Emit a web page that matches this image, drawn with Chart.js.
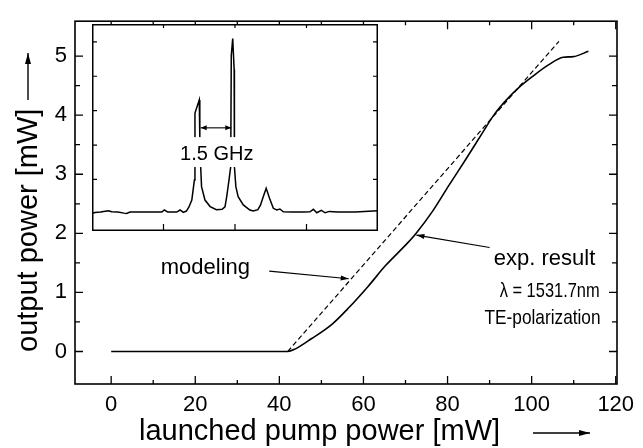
<!DOCTYPE html>
<html lang="en">
<head>
  <meta charset="UTF-8" />
  <title>Output power vs launched pump power</title>
  <script src="https://cdnjs.cloudflare.com/ajax/libs/Chart.js/4.4.1/chart.umd.min.js"></script>
  <style>
    body { margin: 0; background: #fff; }
    #wrap { position: relative; width: 643px; height: 448px; }
    #main { position: absolute; left: 0; top: 0; }
    #inset { position: absolute; left: 92px; top: 24px; }
  </style>
</head>
<body>
  <div id="wrap">
    <canvas id="main" width="643" height="448"></canvas>
    <canvas id="inset" width="286" height="207"></canvas>
  </div>
  <script>
    // main curves: launched pump power [mW] -> output power [mW]
    var expPump  = [0, 42, 43.7, 47.7, 52.5, 56.5, 61.2, 65.2, 70, 72.4, 76.5, 80.4, 84.5, 88.3, 91, 93.9, 97, 100.3, 104, 107.5, 109.9, 113.5];
    var expPower = [0, 0, 0.04, 0.22, 0.46, 0.74, 1.11, 1.45, 1.80, 1.99, 2.38, 2.82, 3.27, 3.70, 4.0, 4.25, 4.47, 4.66, 4.85, 4.98, 4.99, 5.08];
    var modelPump  = [42, 106.5];
    var modelPower = [0, 5.25];

    var xTicks = [0, 20, 40, 60, 80, 100, 120];
    var xMinor = [10, 30, 50, 70, 90, 110];
    var yTicks = [0, 1, 2, 3, 4, 5];
    var yMinor = [0.5, 1.5, 2.5, 3.5, 4.5];

    // inset spectrum (arbitrary units)
    var specX = [0, 1.0, 3, 5.7, 6.9, 9, 11.2, 12.1, 13.3, 18, 24.4, 25.3, 26.5, 29.6, 30.8, 31.9, 33.0, 33.9, 34.9, 35.8,
                 36.0, 37.5, 37.7, 38.0, 38.3, 39.5, 41.3, 43.5, 45.5, 46.5, 47.1, 47.9, 48.5, 48.7, 49.2, 49.7, 49.8,
                 50.3, 51.1, 52.9, 55.2, 56.4, 58.0, 58.9, 59.7, 60.9, 61.4, 62.2, 63.4, 64.6, 65.7, 66.9, 70, 74,
                 76.2, 77.4, 78.6, 80.2, 81.5, 83, 86, 92, 99.9];
    var specY = [0.01, 0.04, 0.05, 0.09, 0.06, 0.05, 0.02, 0.01, 0.05, 0.05, 0.05, 0.11, 0.05, 0.05, 0.11, 0.04, 0.08, 0.2, 0.40, 0.98,
                 2.93, 3.31, 2.2, 1.37, 0.79, 0.40, 0.21, 0.12, 0.13, 0.2, 0.50, 0.98, 1.37, 4.6, 5.10, 4.2, 1.37,
                 0.79, 0.50, 0.26, 0.11, 0.08, 0.12, 0.25, 0.45, 0.74, 0.62, 0.42, 0.16, 0.11, 0.14, 0.06, 0.05, 0.05,
                 0.06, 0.13, 0.03, 0.10, 0.03, 0.07, 0.05, 0.05, 0.09];
    var insetXTicks = [25, 50, 75];
    var insetYTicks = [1, 2, 3, 4, 5];

    var FONT = '"Liberation Sans", Arial, Helvetica, sans-serif';

    function pts(xs, ys) {
      return xs.map(function (v, i) { return { x: v, y: ys[i] }; });
    }

    function arrowHead(ctx, x1, y1, x2, y2, len, wid) {
      var ang = Math.atan2(y2 - y1, x2 - x1);
      ctx.beginPath();
      ctx.moveTo(x2, y2);
      ctx.lineTo(x2 - len * Math.cos(ang) + wid * Math.sin(ang), y2 - len * Math.sin(ang) - wid * Math.cos(ang));
      ctx.lineTo(x2 - len * Math.cos(ang) - wid * Math.sin(ang), y2 - len * Math.sin(ang) + wid * Math.cos(ang));
      ctx.closePath();
      ctx.fill();
    }

    function arrowLine(ctx, x1, y1, x2, y2, len, wid) {
      ctx.beginPath();
      ctx.moveTo(x1, y1);
      ctx.lineTo(x2, y2);
      ctx.stroke();
      arrowHead(ctx, x1, y1, x2, y2, len, wid);
    }

    var mainDecor = {
      id: 'mainDecor',
      afterDraw: function (chart) {
        var ctx = chart.ctx, a = chart.chartArea, x = chart.scales.x, y = chart.scales.y;
        ctx.save();
        ctx.strokeStyle = '#000';
        ctx.fillStyle = '#000';
        ctx.lineWidth = 1.6;
        ctx.strokeRect(a.left, a.top, a.right - a.left, a.bottom - a.top);

        // inward ticks on all four sides
        ctx.lineWidth = 1.3;
        ctx.beginPath();
        function xt(v, l) {
          var p = x.getPixelForValue(v);
          ctx.moveTo(p, a.bottom); ctx.lineTo(p, a.bottom - l);
          ctx.moveTo(p, a.top); ctx.lineTo(p, a.top + l);
        }
        function yt(v, l) {
          var p = y.getPixelForValue(v);
          ctx.moveTo(a.left, p); ctx.lineTo(a.left + l, p);
          ctx.moveTo(a.right, p); ctx.lineTo(a.right - l, p);
        }
        xTicks.forEach(function (v) { xt(v, 8); });
        xMinor.forEach(function (v) { xt(v, 4); });
        yTicks.forEach(function (v) { yt(v, 8); });
        yMinor.forEach(function (v) { yt(v, 5); });
        ctx.stroke();

        // axis titles with arrows
        ctx.font = '29px ' + FONT;
        ctx.textBaseline = 'alphabetic';
        ctx.textAlign = 'left';
        ctx.fillText('launched pump power [mW]', 139, 440);
        ctx.lineWidth = 1.4;
        arrowLine(ctx, 533, 433, 590, 433, 11, 3);

        ctx.save();
        ctx.translate(37, 352);
        ctx.rotate(-Math.PI / 2);
        ctx.fillText('output power [mW]', 0, 0);
        ctx.restore();
        arrowLine(ctx, 28, 100, 28, 53, 11, 3);

        // annotations
        ctx.lineWidth = 1.1;
        var px = function (v) { return x.getPixelForValue(v); };
        var py = function (v) { return y.getPixelForValue(v); };
        arrowLine(ctx, px(37.6), py(1.36), px(56.5), py(1.23), 8, 2.5);
        arrowLine(ctx, px(90.0), py(1.76), px(72.6), py(1.97), 8, 2.5);

        ctx.font = '22px ' + FONT;
        ctx.fillText('modeling', px(11.8), py(1.32));
        ctx.fillText('exp. result', px(91.0), py(1.46), 108);
        ctx.font = '21px ' + FONT;
        ctx.fillText('\u03bb = 1531.7nm', px(92.4), py(0.92), 100);
        ctx.fillText('TE-polarization', px(88.8), py(0.46), 116);
        ctx.restore();
      }
    };

    var insetDecor = {
      id: 'insetDecor',
      afterDatasetsDraw: function (chart) {
        var ctx = chart.ctx, x = chart.scales.x, y = chart.scales.y;
        var w = chart.width, h = chart.height;
        ctx.save();
        ctx.fillStyle = '#fff';
        var bx1 = x.getPixelForValue(30.6), bx2 = x.getPixelForValue(57.0);
        var by1 = y.getPixelForValue(2.23), by2 = y.getPixelForValue(1.36);
        ctx.fillRect(bx1, by1, bx2 - bx1, by2 - by1);

        ctx.fillStyle = '#000';
        ctx.strokeStyle = '#000';
        ctx.font = '20px ' + FONT;
        ctx.textAlign = 'center';
        ctx.textBaseline = 'alphabetic';
        ctx.fillText('1.5 GHz', x.getPixelForValue(43.6), y.getPixelForValue(1.56));

        // double arrow between the peaks
        ctx.lineWidth = 1.1;
        var ay = y.getPixelForValue(2.5);
        var ax1 = x.getPixelForValue(38.0), ax2 = x.getPixelForValue(48.7);
        ctx.beginPath();
        ctx.moveTo(ax1, ay); ctx.lineTo(ax2, ay);
        ctx.stroke();
        arrowHead(ctx, ax2, ay, ax1, ay, 6, 2.5);
        arrowHead(ctx, ax1, ay, ax2, ay, 6, 2.5);

        // frame and inward ticks
        ctx.lineWidth = 1.5;
        ctx.strokeRect(0.75, 0.75, w - 1.5, h - 1.5);
        ctx.lineWidth = 1.2;
        ctx.beginPath();
        insetXTicks.forEach(function (v) {
          var p = x.getPixelForValue(v);
          ctx.moveTo(p, h); ctx.lineTo(p, h - 7);
          ctx.moveTo(p, 0); ctx.lineTo(p, 4);
        });
        insetYTicks.forEach(function (v) {
          var p = y.getPixelForValue(v);
          ctx.moveTo(0, p); ctx.lineTo(5, p);
          ctx.moveTo(w, p); ctx.lineTo(w - 5, p);
        });
        ctx.stroke();
        ctx.restore();
      }
    };

    var whiteBg = {
      id: 'whiteBg',
      beforeDraw: function (chart) {
        var ctx = chart.ctx;
        ctx.save();
        ctx.fillStyle = '#fff';
        ctx.fillRect(0, 0, chart.width, chart.height);
        ctx.restore();
      }
    };

    new Chart('main', {
      type: 'line',
      data: {
        datasets: [{
          label: 'exp. result',
          data: pts(expPump, expPower),
          borderColor: '#000',
          borderWidth: 1.6,
          pointRadius: 0,
          cubicInterpolationMode: 'monotone',
          fill: false
        }, {
          label: 'modeling',
          data: pts(modelPump, modelPower),
          borderColor: '#000',
          borderWidth: 1.2,
          borderDash: [5, 3],
          pointRadius: 0,
          tension: 0,
          fill: false
        }]
      },
      options: {
        responsive: false,
        animation: false,
        layout: { padding: { top: 12, right: 26, left: 0, bottom: 0 } },
        plugins: { legend: { display: false }, tooltip: { enabled: false } },
        scales: {
          x: {
            type: 'linear',
            min: -8.6,
            max: 120.3,
            grid: { display: false, drawTicks: false },
            border: { display: false },
            afterFit: function (s) { s.height = 64; },
            afterBuildTicks: function (s) { s.ticks = xTicks.map(function (v) { return { value: v }; }); },
            ticks: { padding: 8, color: '#000', font: { size: 22, family: FONT }, maxRotation: 0, autoSkip: false }
          },
          y: {
            min: -0.55,
            max: 5.59,
            grid: { display: false, drawTicks: false },
            border: { display: false },
            afterFit: function (s) { s.width = 75; },
            afterBuildTicks: function (s) { s.ticks = yTicks.map(function (v) { return { value: v }; }); },
            ticks: { padding: 8, color: '#000', font: { size: 22, family: FONT } }
          }
        }
      },
      plugins: [whiteBg, mainDecor]
    });

    new Chart('inset', {
      type: 'line',
      data: {
        datasets: [{
          data: pts(specX, specY),
          borderColor: '#000',
          borderWidth: 1.5,
          pointRadius: 0,
          tension: 0,
          fill: false
        }]
      },
      options: {
        responsive: false,
        animation: false,
        layout: { padding: 0 },
        plugins: { legend: { display: false }, tooltip: { enabled: false } },
        scales: {
          x: { type: 'linear', display: false, min: 0, max: 100 },
          y: { display: false, min: -0.5, max: 5.52 }
        }
      },
      plugins: [whiteBg, insetDecor]
    });
  </script>
</body>
</html>
